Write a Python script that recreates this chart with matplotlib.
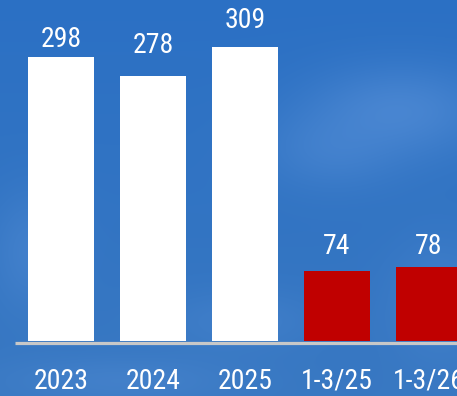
import numpy as np
import matplotlib.pyplot as plt
from matplotlib import font_manager

categories = ["2023", "2024", "2025", "1-3/25", "1-3/26"]
values = [298, 278, 309, 74, 78]
bar_colors = ["#ffffff", "#ffffff", "#ffffff", "#c00000", "#c00000"]

# label lift above each bar top, in pixels
label_lift = [10, 23, 19, 17, 13]

W, H, DPI = 457, 396, 100


def pick_font():
    names = {f.name for f in font_manager.fontManager.ttflist}
    for name in ["Liberation Sans Narrow", "DejaVu Sans Condensed", "Roboto Condensed"]:
        if name in names:
            return name
    return "DejaVu Sans"


def sky(w, h):
    # soft blue sky with a few lighter cloud patches
    yy, xx = np.mgrid[0:h, 0:w].astype(float)
    top = np.array([0.17, 0.44, 0.77])
    bot = np.array([0.22, 0.47, 0.76])
    t = (yy / h)[..., None]
    img = top * (1 - t) + bot * t
    light = np.array([0.36, 0.58, 0.86])
    blobs = [(400, 110, 90, 45, 0.55), (330, 150, 70, 40, 0.35),
             (30, 250, 40, 60, 0.35), (240, 320, 80, 30, 0.25),
             (120, 380, 120, 25, 0.3), (440, 300, 50, 60, 0.3)]
    for cx, cy, sx, sy, a in blobs:
        g = a * np.exp(-(((xx - cx) / sx) ** 2 + ((yy - cy) / sy) ** 2))
        img = img * (1 - g[..., None]) + light * g[..., None]
    return np.clip(img, 0, 1)


font = pick_font()
fig = plt.figure(figsize=(W / DPI, H / DPI), dpi=DPI)

bg = fig.add_axes([0, 0, 1, 1])
bg.imshow(sky(W, H), extent=[0, W, 0, H], aspect="auto", interpolation="bilinear")
bg.set_axis_off()

ax = fig.add_axes([0, 0, 1, 1])
ax.patch.set_alpha(0)
ax.set_axis_off()

pitch = 92.0              # px between bar centres
px_per_unit = 294.0 / 309  # vertical scale
x0 = -61.0 / pitch
ax.set_xlim(x0, x0 + W / pitch)
y0 = -55.0 / px_per_unit
ax.set_ylim(y0, y0 + H / px_per_unit)

xs = np.arange(len(categories))
ax.bar(xs, values, width=66 / pitch, color=bar_colors, zorder=3)
ax.hlines(-1.6, -0.5, x0 + W / pitch, color="#c8c8c8", lw=2.3, zorder=2)

for x, v, lift in zip(xs, values, label_lift):
    ax.annotate(str(v), (x, v), xytext=(0, lift * 72 / DPI), textcoords="offset points",
                ha="center", va="baseline", color="white", fontsize=20, family=font)

tick_y = y0 + 7 / px_per_unit
for x, c in zip(xs, categories):
    ax.text(x, tick_y, c, ha="center", va="baseline", color="white",
            fontsize=20, family=font)

fig.savefig("out.png", dpi=DPI)
